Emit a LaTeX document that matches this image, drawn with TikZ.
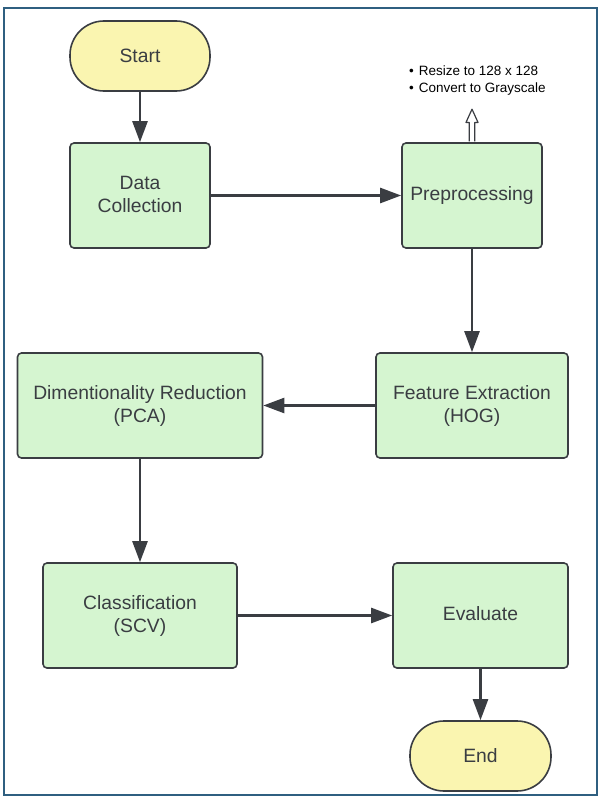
\documentclass[tikz,border=0pt]{standalone}
\usepackage{fontspec}
\setmainfont{Liberation Sans}
\usetikzlibrary{arrows.meta,calc}
\definecolor{boxgreen}{HTML}{D5F5D0}
\definecolor{termyellow}{HTML}{FAF5B0}
\definecolor{edgegray}{HTML}{3A3D42}
\definecolor{txtgray}{HTML}{3A3D42}
\definecolor{framecol}{HTML}{2F5F80}
\tikzset{
  procbox/.style={draw=edgegray, line width=1.6pt, fill=boxgreen, rounded corners=4pt,
    align=center, text=txtgray, font=\fontsize{19.3}{23}\selectfont, inner sep=0pt,
    text depth=3pt},
  termbox/.style={draw=edgegray, line width=1.6pt, fill=termyellow, rounded corners=34pt,
    align=center, text=txtgray, font=\fontsize{19.3}{23}\selectfont, inner sep=0pt,
    minimum width=140pt, minimum height=70pt},
  flow/.style={draw=edgegray, line width=2.4pt, -{Triangle[length=21pt,width=15pt]}},
}
\begin{document}
\begin{tikzpicture}[x=1pt,y=-1pt]
\useasboundingbox (0,0) rectangle (601,800);
\fill[white] (0,0) rectangle (601,800);
\draw[framecol, line width=2pt] (4,8) rectangle (597,795);

\node[termbox] (start) at (140,56) {Start};
\node[procbox, minimum width=140pt, minimum height=105pt] (data) at (140,195.5) {Data\\Collection};
\node[procbox, minimum width=140pt, minimum height=105pt] (pre) at (472,195.5) {Preprocessing};
\node[procbox, minimum width=192pt, minimum height=105pt] (feat) at (472,405.5) {Feature Extraction\\(HOG)};
\node[procbox, minimum width=245pt, minimum height=105pt] (dim) at (140,405.5) {Dimentionality Reduction\\(PCA)};
\node[procbox, minimum width=194pt, minimum height=105pt] (cls) at (140,615.5) {Classification\\(SCV)};
\node[procbox, minimum width=175pt, minimum height=105pt] (eval) at (480.5,615.5) {Evaluate};
\node[termbox, minimum width=141pt] (end) at (480.5,756) {End};

\node[anchor=west, text=black, align=left, font=\fontsize{13.5}{17}\selectfont, inner sep=0pt] (note) at (409,80.5)
  {\textbullet\hspace{5pt}Resize to 128 x 128\\\textbullet\hspace{5pt}Convert to Grayscale};

\draw[flow] (start) -- (data);
\draw[flow] (data) -- (pre);
\draw[flow] (pre) -- (feat);
\draw[flow] (feat) -- (dim);
\draw[flow] (dim) -- (cls);
\draw[flow] (cls) -- (eval);
\draw[flow] (eval) -- (end);

% hollow arrow above Preprocessing
\draw[edgegray, line width=1.2pt, fill=white, line join=round]
  ($(pre.north)+(-2.8,-0.8)$) -- ++(0,-19) -- ++(-3.2,0) -- ($(pre.north)+(0,-33)$)
  -- ($(pre.north)+(6,-19.8)$) -- ++(-3.2,0) -- ($(pre.north)+(2.8,-0.8)$);
\end{tikzpicture}
\end{document}
